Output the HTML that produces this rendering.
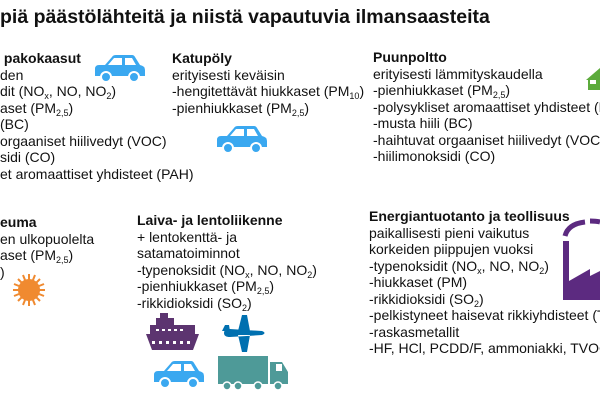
<!DOCTYPE html>
<html><head><meta charset="utf-8"><style>
body{margin:0;width:600px;height:400px;overflow:hidden;background:#fff;position:relative;font-family:"Liberation Sans",Arial,sans-serif;color:#111}
.t{position:absolute;font-size:14px;line-height:16.5px;white-space:nowrap}
.t div{height:16.5px}
b{font-weight:bold}
sub{font-size:9px;vertical-align:-3px;line-height:0}
h1{position:absolute;left:0;top:6px;margin:0;font-size:19.5px;font-weight:bold;white-space:nowrap}
svg{position:absolute}
</style></head><body>
<h1>piä päästölähteitä ja niistä vapautuvia ilmansaasteita</h1>

<div class="t" style="left:0;top:50px">
<div><b>&nbsp;pakokaasut</b></div>
<div>den</div>
<div>dit (NO<sub>x</sub>, NO, NO<sub>2</sub>)</div>
<div>aset (PM<sub>2,5</sub>)</div>
<div>(BC)</div>
<div>orgaaniset hiilivedyt (VOC)</div>
<div>sidi (CO)</div>
<div>et aromaattiset yhdisteet (PAH)</div>
</div>

<div class="t" style="left:172px;top:50px">
<div><b>Katupöly</b></div>
<div>erityisesti keväisin</div>
<div>-hengitettävät hiukkaset (PM<sub>10</sub>)</div>
<div>-pienhiukkaset (PM<sub>2,5</sub>)</div>
</div>

<div class="t" style="left:373px;top:49px;width:227px;overflow:hidden">
<div><b>Puunpoltto</b></div>
<div>erityisesti lämmityskaudella</div>
<div>-pienhiukkaset (PM<sub>2,5</sub>)</div>
<div>-polysykliset aromaattiset yhdisteet (PAH)</div>
<div>-musta hiili (BC)</div>
<div>-haihtuvat orgaaniset hiilivedyt (VOC)</div>
<div>-hiilimonoksidi (CO)</div>
</div>

<div class="t" style="left:0;top:214px">
<div><b>euma</b></div>
<div>en ulkopuolelta</div>
<div>aset (PM<sub>2,5</sub>)</div>
<div>)</div>
</div>

<div class="t" style="left:137px;top:212px">
<div><b>Laiva- ja lentoliikenne</b></div>
<div>+ lentokenttä- ja</div>
<div>satamatoiminnot</div>
<div>-typenoksidit (NO<sub>x</sub>, NO, NO<sub>2</sub>)</div>
<div>-pienhiukkaset (PM<sub>2,5</sub>)</div>
<div>-rikkidioksidi (SO<sub>2</sub>)</div>
</div>

<div class="t" style="left:369px;top:208px;line-height:16.7px;width:231px;overflow:hidden">
<div><b>Energiantuotanto ja teollisuus</b></div>
<div>paikallisesti pieni vaikutus</div>
<div>korkeiden piippujen vuoksi</div>
<div>-typenoksidit (NO<sub>x</sub>, NO, NO<sub>2</sub>)</div>
<div>-hiukkaset (PM)</div>
<div>-rikkidioksidi (SO<sub>2</sub>)</div>
<div>-pelkistyneet haisevat rikkiyhdisteet (TRS)</div>
<div>-raskasmetallit</div>
<div>-HF, HCl, PCDD/F, ammoniakki, TVOC</div>
</div>

<svg width="600" height="400" style="left:0;top:0">
<defs><g id="car"><path d="M0,14 Q0,10 4,10 L10,10 L17,2 Q18,0 21,0 L37,0 Q39,0 40,2 L45,10 Q50,11 50,15 L50,21 L0,21Z" fill="#3aa8f0"/>
<path d="M13,10 L19,3 L27,3 L27,10Z M30,3 L37,3 L41,10 L30,10Z" fill="#fff"/>
<circle cx="11" cy="22" r="5" fill="#3aa8f0" stroke="#fff" stroke-width="2"/><circle cx="39" cy="22" r="5" fill="#3aa8f0" stroke="#fff" stroke-width="2"/></g></defs>
<use href="#car" x="95" y="55"/>
<use href="#car" x="217" y="126"/>
<use href="#car" x="154" y="361"/>
<!-- house -->
<path d="M586,80 L600,68 L600,90 L588,90 L588,80Z" fill="#5cab3c"/>
<rect x="590" y="80" width="6" height="4" fill="#fff"/>
<!-- sun -->
<g transform="translate(29,290)" stroke="#f08a30" stroke-width="2">
<circle r="10" fill="#f08a30"/>
<line x1="0" y1="-16" x2="0" y2="16"/><line x1="-16" y1="0" x2="16" y2="0"/>
<line x1="-11" y1="-11" x2="11" y2="11"/><line x1="-11" y1="11" x2="11" y2="-11"/>
<line x1="-6" y1="-15" x2="6" y2="15"/><line x1="6" y1="-15" x2="-6" y2="15"/>
<line x1="-15" y1="-6" x2="15" y2="6"/><line x1="-15" y1="6" x2="15" y2="-6"/>
</g>
<!-- ship -->
<g fill="#5c3470">
<rect x="160" y="313" width="8" height="5"/>
<rect x="156" y="318" width="18" height="7"/>
<rect x="150" y="325" width="45" height="9"/>
<path d="M146,334 L199,334 L193,350 L152,350Z"/>
</g>
<g fill="#fff"><rect x="156" y="329" width="3" height="2"/><rect x="162" y="329" width="3" height="2"/><rect x="168" y="329" width="3" height="2"/><rect x="174" y="329" width="3" height="2"/><rect x="180" y="329" width="3" height="2"/>
<rect x="152" y="341" width="3" height="3"/><rect x="159" y="341" width="3" height="3"/><rect x="166" y="341" width="3" height="3"/><rect x="173" y="341" width="3" height="3"/><rect x="180" y="341" width="3" height="3"/><rect x="187" y="341" width="3" height="3"/></g>
<!-- plane -->
<path d="M224,333 Q224,329 230,329 L262,331 Q267,333 262,335 L230,337 Q224,337 224,333Z M238,331 L242,315 L247,315 L250,331Z M238,335 L242,352 L247,352 L250,335Z M222,331 L225,325 L229,325 L230,331Z" fill="#0070b0"/>
<!-- truck -->
<rect x="218" y="356" width="50" height="28" fill="#4e9a98"/>
<path d="M270,362 L282,362 L288,372 L288,384 L270,384Z" fill="#4e9a98"/>
<rect x="276" y="364" width="6" height="7" fill="#fff"/>
<g fill="#4e9a98" stroke="#fff" stroke-width="1.5"><circle cx="227" cy="386" r="4"/><circle cx="238" cy="386" r="4"/><circle cx="258" cy="386" r="4"/><circle cx="278" cy="386" r="4"/></g>
<!-- factory -->
<path d="M565,236 Q568,224 585,222 M590,221 Q596,221 600,222" stroke="#5c2a80" stroke-width="5" fill="none"/>
<path d="M563,241 L569,241 L569,281 L590,269 L590,276 L600,271 L600,300 L563,300Z" fill="#5c2a80"/>
</svg>
</body></html>
